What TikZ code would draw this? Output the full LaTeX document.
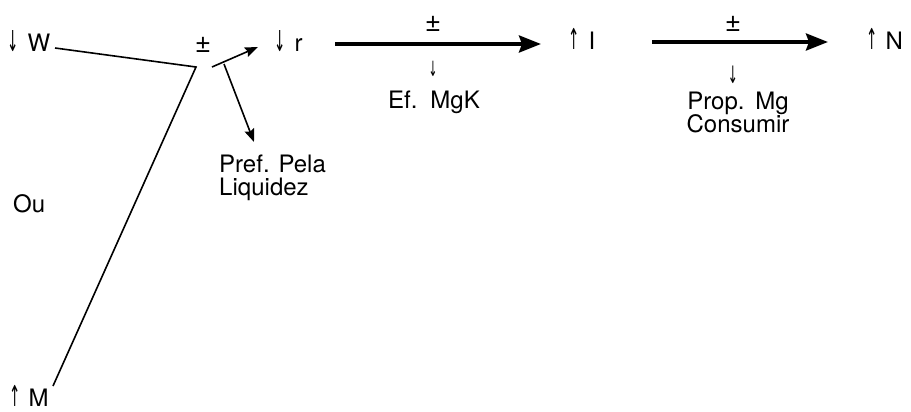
\documentclass[tikz,border=0pt]{standalone}
\usepackage{fontspec}
\usepackage{graphicx}
\setmainfont{TeX Gyre Heros}
\newfontfamily\arrfont{DejaVu Sans}
\usetikzlibrary{arrows.meta}
\newcommand{\dnarr}{{\arrfont\fontsize{18}{18}\selectfont\scalebox{0.75}[1.6]{↓}}}
\newcommand{\uparr}{{\arrfont\fontsize{18}{18}\selectfont\scalebox{0.75}[1.6]{↑}}}
\begin{document}
\begin{tikzpicture}[x=1pt,y=-1pt,
  lbl/.style={inner sep=0pt,anchor=base west,font=\fontsize{24}{24}\selectfont},
  clbl/.style={inner sep=0pt,anchor=base,font=\fontsize{24}{24}\selectfont,align=center},
  thin link/.style={line width=1.6pt},
  small arrow/.style={line width=1.6pt,-{Stealth[length=13pt,width=10pt,inset=2pt]}},
  big arrow/.style={line width=3.6pt,-{Stealth[length=22pt,width=17pt,inset=3pt]}}]
\useasboundingbox (0,0) rectangle (911,412);
% labels
\node[lbl] (w) at (7,52) {\dnarr\hspace{9pt}W};
\node[lbl] (m) at (9,406) {\uparr\hspace{8pt}M};
\node[lbl] (ou) at (13,212) {Ou};
\node[clbl] (pm1) at (203,53) {{\fontsize{28}{28}\selectfont ±}};
\node[lbl] (r) at (274,52) {\dnarr\hspace{9pt}r};
\node[lbl] (i) at (568,50) {\uparr\hspace{9pt}I};
\node[lbl] (n) at (866,50) {\uparr\hspace{8pt}N};
\node[lbl] (pref) at (219,172) {Pref. Pela};
\node[lbl] (liq) at (219,195) {Liquidez};
\node[clbl] (pm2) at (433,32) {{\fontsize{28}{28}\selectfont ±}};
\node[clbl] (d2) at (433,77) {{\arrfont\fontsize{14}{14}\selectfont\scalebox{0.75}[1.5]{↓}}};
\node[clbl] (ef) at (434,108) {Ef.\hspace{4pt} MgK};
\node[clbl] (pm3) at (733,32) {{\fontsize{28}{28}\selectfont ±}};
\node[clbl] (d3) at (733,84) {{\arrfont\fontsize{16}{16}\selectfont\scalebox{0.75}[1.5]{↓}}};
\node[clbl] (prop) at (738,110) {Prop.\hspace{2pt} Mg};
\node[clbl] (cons) at (738,132) {Consumir};
% connector end points
\coordinate (wend) at (55,48);
\coordinate (j) at (196,67);
\coordinate (mend) at (53,386);
\coordinate (a1s) at (212,67);
\coordinate (a1e) at (258,47);
\coordinate (a2s) at (224,64);
\coordinate (a2e) at (254,142);
\coordinate (a3s) at (335,44);
\coordinate (a3e) at (541,44);
\coordinate (a4s) at (652,42);
\coordinate (a4e) at (828,42);
% connectors
\draw[thin link,line join=miter] (wend) -- (j) -- (mend);
\draw[small arrow] (a1s) -- (a1e);
\draw[small arrow] (a2s) -- (a2e);
\draw[big arrow] (a3s) -- (a3e);
\draw[big arrow] (a4s) -- (a4e);
\end{tikzpicture}
\end{document}
